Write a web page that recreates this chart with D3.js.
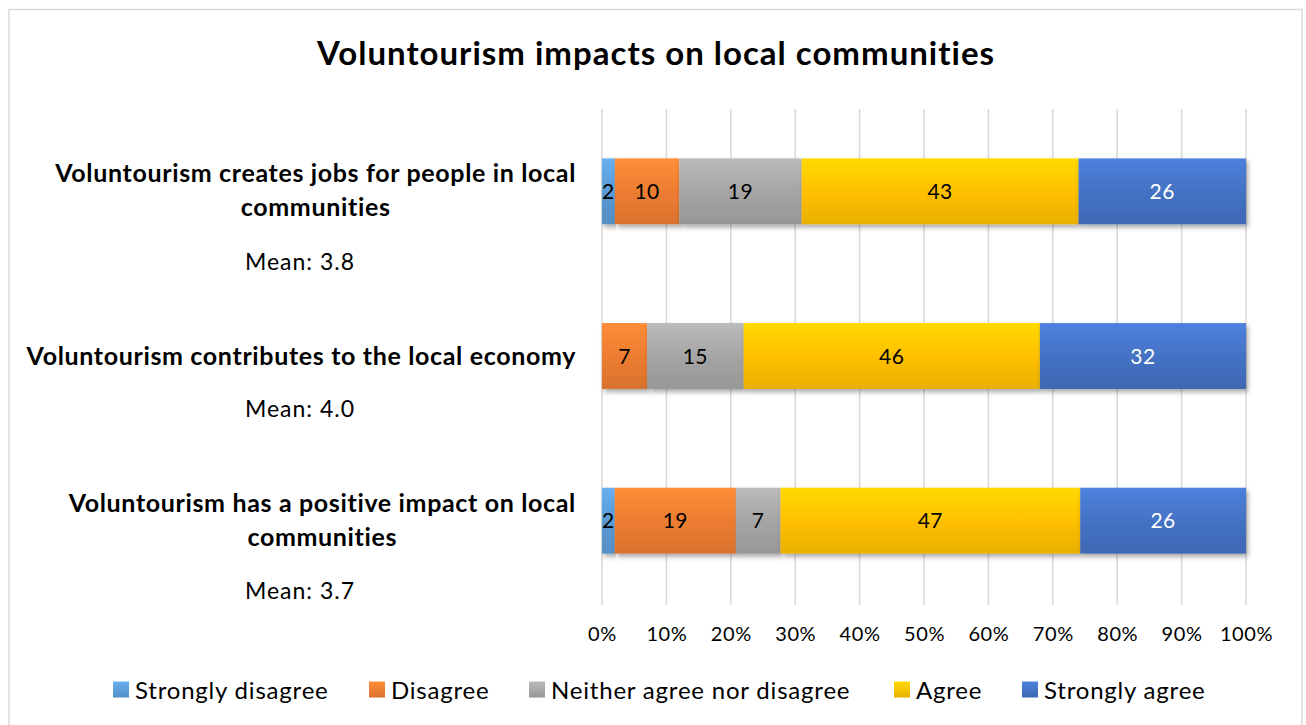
<!DOCTYPE html>
<html><head><meta charset="utf-8">
<script src="https://cdn.jsdelivr.net/npm/d3@7/dist/d3.min.js"></script>
<style>
html,body{margin:0;padding:0;background:#fff;}
text{font-family:Lato,"Open Sans",sans-serif;}
</style></head>
<body>
<svg id="chart" width="1306" height="725"></svg>
<script>
const title = "Voluntourism impacts on local communities";
const categories = [
  "Voluntourism creates jobs for people in local communities",
  "Voluntourism contributes to the local economy",
  "Voluntourism has a positive impact on local communities"
];
const categoryLines = [
  ["Voluntourism creates jobs for people in local", "communities"],
  ["Voluntourism contributes to the local economy"],
  ["Voluntourism has a positive impact on local", "communities"]
];
const means = ["Mean: 3.8", "Mean: 4.0", "Mean: 3.7"];
const seriesNames = ["Strongly disagree", "Disagree", "Neither agree nor disagree", "Agree", "Strongly agree"];
const stronglyDisagree = [2, 0, 2];
const disagree = [10, 7, 19];
const neither = [19, 15, 7];
const agree = [43, 46, 47];
const stronglyAgree = [26, 32, 26];
const tickValues = [0, 0.1, 0.2, 0.3, 0.4, 0.5, 0.6, 0.7, 0.8, 0.9, 1];
const colors = ["#5B9BD5", "#ED7D31", "#A5A5A5", "#FFC000", "#4472C4"];
const labelColors = ["#000", "#000", "#000", "#000", "#fff"];

const svg = d3.select("#chart");
const plot = {left: 602, right: 1246, top: 109, bottom: 603};

// border
svg.append("rect").attr("x", 9).attr("y", 9.5).attr("width", 1293).attr("height", 730)
  .attr("fill", "#fff").attr("stroke", "#d9d9d9").attr("stroke-width", 1.5);

const defs = svg.append("defs");
colors.forEach((c, i) => {
  const g = defs.append("linearGradient").attr("id", "g" + i).attr("x1", 0).attr("y1", 0).attr("x2", 0).attr("y2", 1);
  g.append("stop").attr("offset", "0%").attr("stop-color", d3.color(c).brighter(0.35));
  g.append("stop").attr("offset", "50%").attr("stop-color", c);
  g.append("stop").attr("offset", "100%").attr("stop-color", d3.color(c).darker(0.25));
  const l = defs.append("linearGradient").attr("id", "lg" + i).attr("x1", 0).attr("y1", 0).attr("x2", 0).attr("y2", 1);
  l.append("stop").attr("offset", "0%").attr("stop-color", d3.color(c).brighter(0.35));
  l.append("stop").attr("offset", "100%").attr("stop-color", d3.color(c).darker(0.25));
});
const f = defs.append("filter").attr("id", "shadow").attr("x", "-5%").attr("y", "-20%").attr("width", "110%").attr("height", "150%");
f.append("feDropShadow").attr("dx", 2).attr("dy", 3).attr("stdDeviation", 2.5).attr("flood-color", "#000").attr("flood-opacity", 0.35);

const table = categories.map((c, i) => ({
  cat: c,
  "Strongly disagree": stronglyDisagree[i],
  "Disagree": disagree[i],
  "Neither agree nor disagree": neither[i],
  "Agree": agree[i],
  "Strongly agree": stronglyAgree[i]
}));
const stack = d3.stack().keys(seriesNames).offset(d3.stackOffsetExpand);
const series = stack(table);

const x = d3.scaleLinear().domain([0, 1]).range([plot.left, plot.right]);
const y = d3.scaleBand().domain(categories).range([plot.top, plot.bottom]).paddingInner(0.6).paddingOuter(0.3);

// gridlines
svg.append("g").selectAll("line").data(tickValues).join("line")
  .attr("x1", d => x(d)).attr("x2", d => x(d))
  .attr("y1", plot.top).attr("y2", plot.bottom + 2)
  .attr("stroke", "#d9d9d9").attr("stroke-width", 1.5);

// axis tick labels
const xAxis = d3.axisBottom(x).tickValues(tickValues).tickFormat(d3.format(".0%")).tickSize(0).tickPadding(0);
const ax = svg.append("g").attr("transform", `translate(0,${plot.bottom + 24})`).call(xAxis);
ax.select(".domain").remove();
ax.selectAll("text").attr("font-size", 20).attr("letter-spacing", 0.6).attr("fill", "#000").attr("font-family", "Lato, sans-serif");

// bars
const bars = svg.append("g");
series.forEach((s, si) => {
  const g = bars.append("g");
  g.selectAll("rect").data(s.filter(d => d[1] - d[0] > 0)).join("rect")
    .attr("x", d => x(d[0])).attr("width", d => x(d[1]) - x(d[0]))
    .attr("y", d => y(d.data.cat)).attr("height", y.bandwidth())
    .attr("fill", `url(#g${si})`)
    .attr("filter", "url(#shadow)");
});
series.forEach((s, si) => {
  svg.append("g").selectAll("text").data(s.filter(d => d[1] - d[0] > 0)).join("text")
    .attr("x", d => (x(d[0]) + x(d[1])) / 2)
    .attr("y", d => y(d.data.cat) + y.bandwidth() / 2)
    .attr("dy", "0.36em")
    .attr("text-anchor", "middle")
    .attr("font-size", 21)
    .attr("letter-spacing", 0.5)
    .attr("fill", labelColors[si])
    .text(d => d.data[s.key]);
});

// category labels
const labelRight = 576;
const lineOffsets = [[-18, 16], [0], [-18, 16]];
categoryLines.forEach((lines, i) => {
  const cy = y(categories[i]) + y.bandwidth() / 2;
  const first = svg.append("text")
    .attr("x", labelRight).attr("y", cy + lineOffsets[i][0]).attr("dy", "0.36em")
    .attr("text-anchor", "end").attr("font-size", 25).attr("letter-spacing", 0.65)
    .attr("font-weight", "bold").attr("fill", "#000")
    .text(lines[0]);
  const w = first.node().getComputedTextLength();
  const center = labelRight - w / 2;
  for (let k = 1; k < lines.length; k++) {
    svg.append("text")
      .attr("x", center).attr("y", cy + lineOffsets[i][k]).attr("dy", "0.36em")
      .attr("text-anchor", "middle").attr("font-size", 25).attr("letter-spacing", 0.65)
      .attr("font-weight", "bold").attr("fill", "#000")
      .text(lines[k]);
  }
  svg.append("text")
    .attr("x", 300).attr("y", cy + (i === 1 ? 53 : 70)).attr("dy", "0.36em")
    .attr("text-anchor", "middle").attr("font-size", 23).attr("letter-spacing", 1)
    .attr("fill", "#000")
    .text(means[i]);
});

// title
svg.append("text").attr("x", 656).attr("y", 53).attr("dy", "0.36em")
  .attr("text-anchor", "middle").attr("font-size", 33).attr("letter-spacing", 1)
  .attr("font-weight", "bold").attr("fill", "#000")
  .text(title);

// legend
const legendX = [113, 369, 529, 894, 1022];
const leg = svg.append("g");
seriesNames.forEach((n, i) => {
  leg.append("rect").attr("x", legendX[i]).attr("y", 681.5).attr("width", 16).attr("height", 16).attr("fill", `url(#lg${i})`);
  leg.append("text").attr("x", legendX[i] + 22).attr("y", 690).attr("dy", "0.36em")
    .attr("font-size", 24).attr("letter-spacing", 0.8).attr("fill", "#000").text(n);
});
</script>
</body></html>
